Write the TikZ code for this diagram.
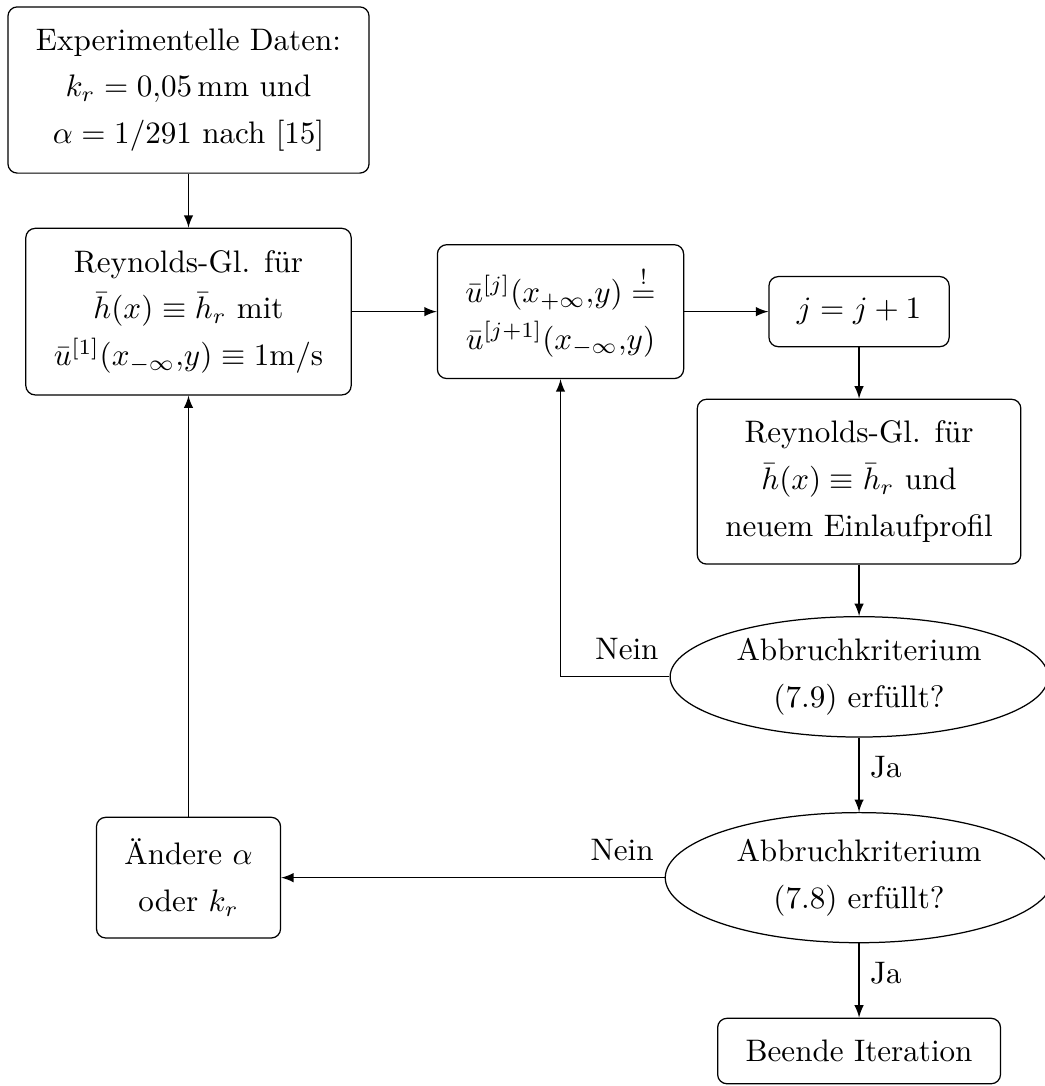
\documentclass[tikz,border=0pt]{standalone}
\usepackage{amsmath}
\usepackage{tikz}
\usetikzlibrary{arrows, shapes, positioning, calc}
\tikzstyle{block} = [rectangle, rounded corners=3pt, draw=black, align=center, inner xsep=9pt, inner ysep=7pt, font={\fontsize{10}{15}\selectfont}]
\tikzstyle{abfrage} = [ellipse, draw=black, align=center, inner sep=0pt, minimum width=4.27cm, minimum height=1.36cm, font={\fontsize{10}{15}\selectfont}]
\tikzset{
	PFEIL/.style={thin, -latex}
}
\begin{document}
\begin{tikzpicture}
	\useasboundingbox (0,0) rectangle (11.797,-12.271);
	\node (daten) [block] at (2.13,-1.017) {Experimentelle Daten:\\ $k_r = 0{,}05\,\mathrm{mm}$ und\\ $\alpha = 1/291$ nach [15]};
	\node (rey1) [block, below = 0.61cm of daten] {Reynolds-Gl. f\"ur\\ $\bar{h}(x) \equiv \bar{h}_r$ mit\\ $\bar{u}^{[1]}(x_{-\infty}{,}y) \equiv 1\mathrm{m/s}$};
	\node (ubar) [block, right = 0.96cm of rey1] {$\bar{u}^{[j]}(x_{+\infty}{,}y) \overset{!}{=}$\\ $\bar{u}^{[j+1]}(x_{-\infty}{,}y)$};
	\node (jplus) [block, right = 0.95cm of ubar] {$j = j + 1$};
	\node (rey2) [block, below = 0.58cm of jplus] {Reynolds-Gl. f\"ur\\ $\bar{h}(x) \equiv \bar{h}_r$ und\\ neuem Einlaufprofil};
	\node (krit1) [abfrage, below = 0.58cm of rey2] {Abbruchkriterium\\ (7.9) erf\"ullt?};
	\node (krit2) [abfrage, minimum width=4.38cm, minimum height=1.47cm, below = 0.84cm of krit1] {Abbruchkriterium\\ (7.8) erf\"ullt?};
	\node (ende) [block, below = 0.84cm of krit2] {Beende Iteration};
	\node (aendere) [block] at (rey1 |- krit2) {\"Andere $\alpha$\\ oder $k_r$};
	\draw [PFEIL] (daten) -- (rey1);
	\draw [PFEIL] (rey1) -- (ubar);
	\draw [PFEIL] (ubar) -- (jplus);
	\draw [PFEIL] (jplus) -- (rey2);
	\draw [PFEIL] (rey2) -- (krit1);
	\draw [PFEIL] (krit1) -- node[pos=0.4, right] {Ja} (krit2);
	\draw [PFEIL] (krit2) -- node[pos=0.4, right] {Ja} (ende);
	\draw [PFEIL] (krit1.west) node[above left, yshift=2pt] {Nein} -| (ubar.south);
	\draw [PFEIL] (krit2.west) node[above left, yshift=2pt] {Nein} -- (aendere.east);
	\draw [PFEIL] (aendere) -- (rey1);
\end{tikzpicture}
\end{document}
